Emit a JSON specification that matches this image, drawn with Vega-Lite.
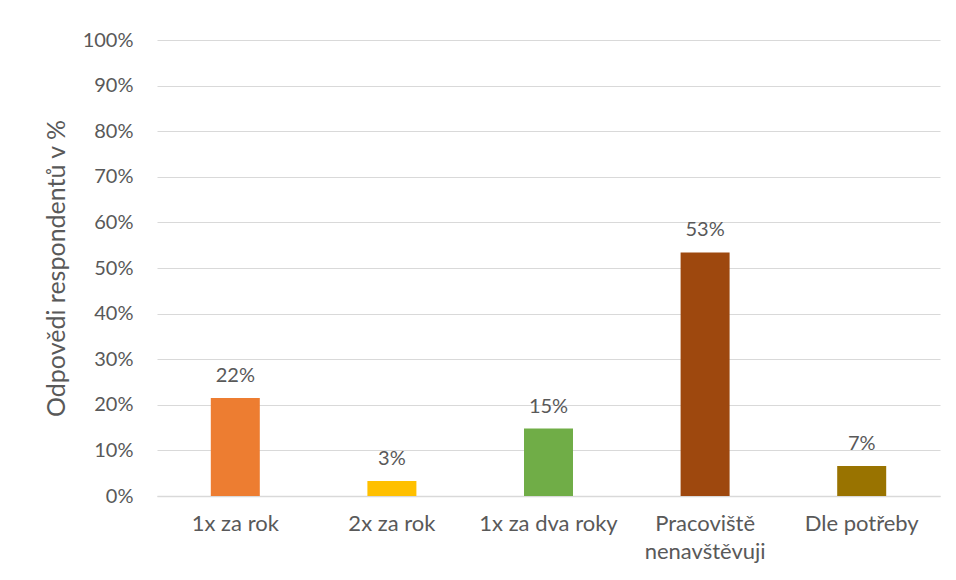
{
  "$schema": "https://vega.github.io/schema/vega-lite/v6.json",
  "autosize": "none",
  "width": 783,
  "height": 456,
  "padding": {"left": 157, "top": 40, "right": 16, "bottom": 84},
  "background": "white",
  "config": {
    "view": {"stroke": null},
    "font": "Lato",
    "axis": {"labelFont": "Lato", "titleFont": "Lato", "labelColor": "#595959", "titleColor": "#595959"}
  },
  "data": {
    "values": [
      {"kategorie": "1x za rok", "hodnota": 21.5, "label": "22%", "barva": "#ED7D31"},
      {"kategorie": "2x za rok", "hodnota": 3.3, "label": "3%", "barva": "#FFC000"},
      {"kategorie": "1x za dva roky", "hodnota": 14.8, "label": "15%", "barva": "#70AD47"},
      {"kategorie": "Pracoviště nenavštěvuji", "hodnota": 53.4, "label": "53%", "barva": "#9E480E"},
      {"kategorie": "Dle potřeby", "hodnota": 6.6, "label": "7%", "barva": "#997300"}
    ]
  },
  "encoding": {
    "x": {
      "field": "kategorie", "type": "nominal", "sort": null,
      "axis": {
        "title": null, "labelAngle": 0, "labelFontSize": 22, "labelPadding": 17,
        "ticks": false, "domainColor": "#d9d9d9", "domainWidth": 1.5,
        "labelLineHeight": 28,
        "labelExpr": "datum.label == 'Pracoviště nenavštěvuji' ? ['Pracoviště', 'nenavštěvuji'] : datum.label"
      }
    },
    "y": {
      "field": "hodnota", "type": "quantitative",
      "scale": {"domain": [0, 100]},
      "axis": {
        "title": "Odpovědi respondentů v %", "titleFontSize": 25, "titleFontWeight": "normal", "titlePadding": 13,
        "values": [0,10,20,30,40,50,60,70,80,90,100],
        "labelExpr": "datum.value + '%'", "labelFontSize": 20, "labelPadding": 24,
        "ticks": false, "domain": false, "gridColor": "#d9d9d9", "gridWidth": 1
      }
    }
  },
  "layer": [
    {
      "mark": {"type": "bar", "size": 49},
      "encoding": {"color": {"field": "barva", "type": "nominal", "scale": null}}
    },
    {
      "mark": {"type": "text", "baseline": "bottom", "dy": -12, "fontSize": 20, "color": "#595959", "font": "Lato"},
      "encoding": {"text": {"field": "label"}}
    }
  ]
}
